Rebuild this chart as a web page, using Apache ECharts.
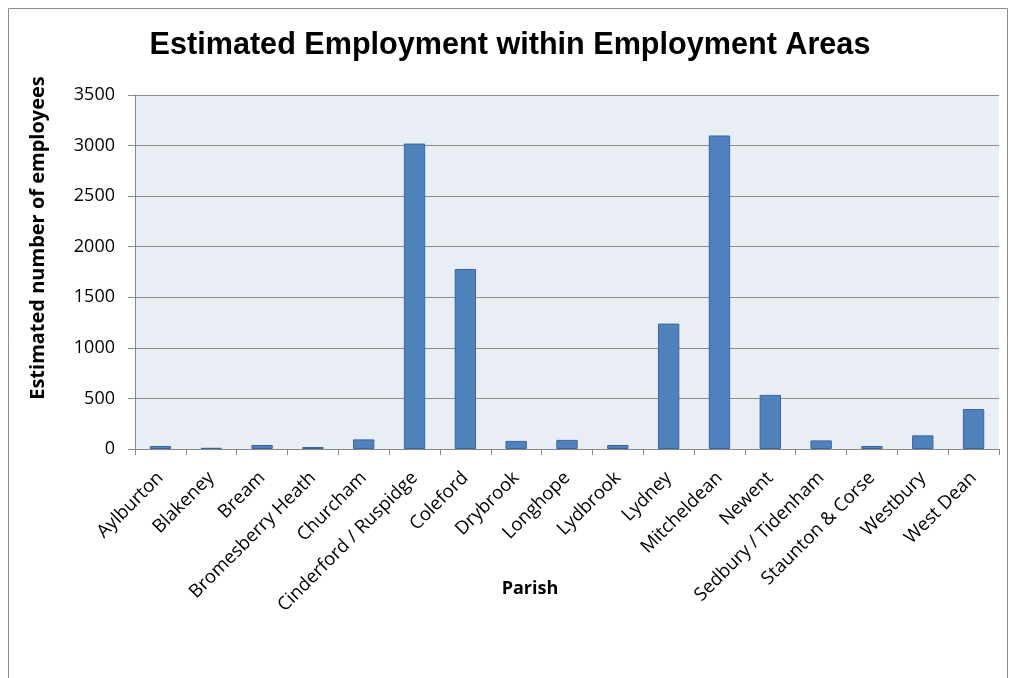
<!DOCTYPE html>
<html><head><meta charset="utf-8">
<script src="https://cdn.jsdelivr.net/npm/echarts@6/dist/echarts.min.js"></script>
<style>html,body{margin:0;padding:0;background:#fff}#c{width:1011px;height:678px}</style>
</head><body><div id="c"></div>
<script>
const categories = ["Aylburton","Blakeney","Bream","Bromesberry Heath","Churcham","Cinderford / Ruspidge","Coleford","Drybrook","Longhope","Lydbrook","Lydney","Mitcheldean","Newent","Sedbury / Tidenham","Staunton & Corse","Westbury","West Dean"];
const employees = [30, 12, 40, 20, 95, 3020, 1780, 80, 90, 40, 1240, 3100, 535, 85, 30, 135, 395];
const yTicks = [0, 500, 1000, 1500, 2000, 2500, 3000, 3500];

const chart = echarts.init(document.getElementById('c'));
chart.setOption({
  animation: false,
  backgroundColor: '#fff',
  title: {
    text: 'Estimated Employment within Employment Areas',
    left: 505, top: 25, textAlign: 'center',
    textStyle: {fontFamily: 'Liberation Sans Narrow, Liberation Sans', fontWeight: 'bold', fontSize: 30.6, color: '#000'}
  },
  grid: {left: 135, right: 12, top: 95, bottom: 229, show: true, backgroundColor: '#E9EDF4', borderWidth: 0},
  graphic: [
    {type: 'rect', shape: {x: 8.5, y: 8.5, width: 999, height: 700}, style: {fill: 'none', stroke: '#8c8c8c', lineWidth: 1}},
    {type: 'text', x: 38, y: 238, rotation: Math.PI/2, style: {text: 'Estimated number of employees', textAlign: 'center', textVerticalAlign: 'middle', font: 'bold 20px "Open Sans", sans-serif', fill: '#000'}},
    {type: 'text', x: 530, y: 589, style: {text: 'Parish', textAlign: 'center', textVerticalAlign: 'middle', font: 'bold 18px "Open Sans", sans-serif', fill: '#000'}}
  ],
  xAxis: {
    type: 'category', data: categories, boundaryGap: true,
    axisLine: {lineStyle: {color: '#888', width: 1}},
    axisTick: {show: true, length: 6, lineStyle: {color: '#888'}},
    axisLabel: {rotate: 45, interval: 0, fontFamily: 'Open Sans', fontSize: 18.5, color: '#000', margin: 26}
  },
  yAxis: {
    type: 'value', min: 0, max: 3500, interval: 500,
    axisLine: {show: true, lineStyle: {color: '#888'}},
    axisTick: {show: true, length: 7, lineStyle: {color: '#888'}},
    splitLine: {lineStyle: {color: '#8c8c8c', width: 1}},
    axisLabel: {fontFamily: 'Open Sans', fontSize: 18, color: '#000', margin: 20,
      formatter: v => yTicks.includes(v) ? String(v) : ''}
  },
  series: [{
    type: 'bar', data: employees, barWidth: '42%',
    itemStyle: {color: '#4F81BD', borderColor: '#3B679C', borderWidth: 1}
  }]
});
</script></body></html>
